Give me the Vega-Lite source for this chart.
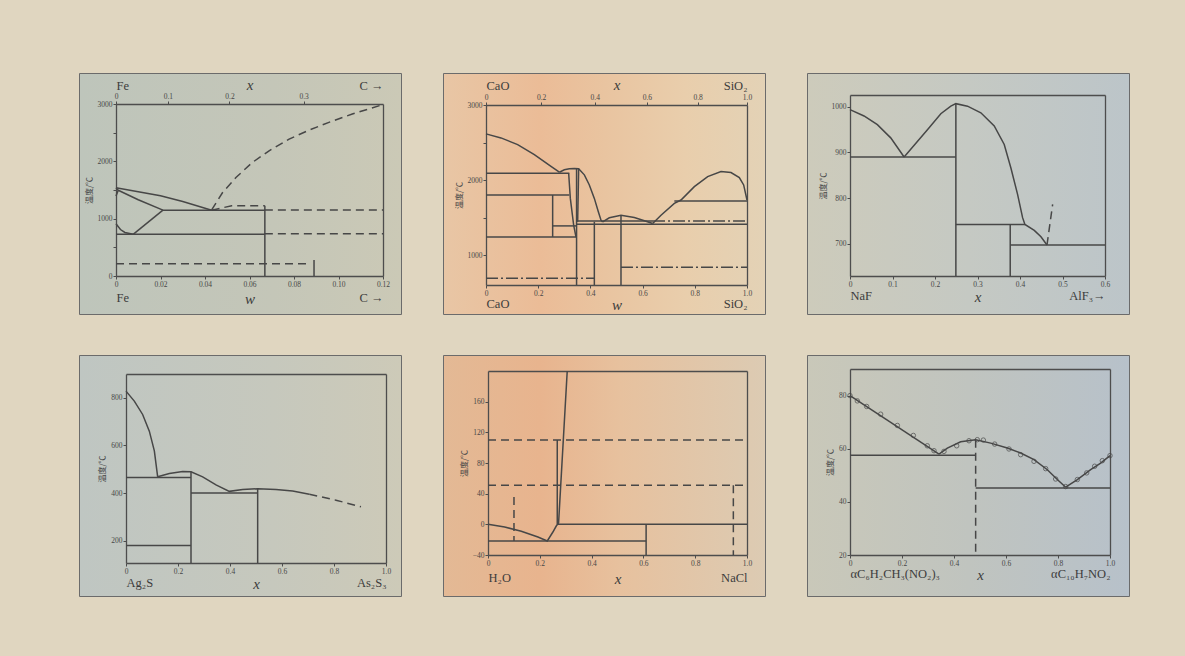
{
"$schema":"https://vega.github.io/schema/vega-lite/v6.json",
"background":"#e0d6c0",
"padding":{"left":78,"top":72,"right":56,"bottom":59},
"autosize":{"type":"pad"},
"datasets":{
"p1":[
{"c":1,"k":"s","x":0,"t":1538},{"c":1,"k":"s","x":0.01,"t":1470},{"c":1,"k":"s","x":0.02,"t":1398},{"c":1,"k":"s","x":0.03,"t":1300},{"c":1,"k":"s","x":0.043,"t":1148},
{"c":2,"k":"s","x":0.001,"t":1495},{"c":2,"k":"s","x":0.01,"t":1330},{"c":2,"k":"s","x":0.0211,"t":1148},
{"c":3,"k":"s","x":0,"t":1538},{"c":3,"k":"s","x":0.001,"t":1495},{"c":3,"k":"s","x":0,"t":1394},
{"c":4,"k":"s","x":0,"t":912},{"c":4,"k":"s","x":0.002,"t":810},{"c":4,"k":"s","x":0.004,"t":760},{"c":4,"k":"s","x":0.0077,"t":727},
{"c":5,"k":"s","x":0.0077,"t":727},{"c":5,"k":"s","x":0.0211,"t":1148},
{"c":6,"k":"s","x":0.0211,"t":1148},{"c":6,"k":"s","x":0.0669,"t":1148},
{"c":7,"k":"s","x":0,"t":727},{"c":7,"k":"s","x":0.0669,"t":727},
{"c":8,"k":"s","x":0.0669,"t":0},{"c":8,"k":"s","x":0.0669,"t":1227},
{"c":9,"k":"d","x":0.043,"t":1148},{"c":9,"k":"d","x":0.052,"t":1225},{"c":9,"k":"d","x":0.0669,"t":1227},
{"c":10,"k":"d","x":0.043,"t":1153},{"c":10,"k":"d","x":0.0479,"t":1456},{"c":10,"k":"d","x":0.0539,"t":1718},{"c":10,"k":"d","x":0.0613,"t":1981},{"c":10,"k":"d","x":0.0688,"t":2184},{"c":10,"k":"d","x":0.0778,"t":2388},{"c":10,"k":"d","x":0.0868,"t":2545},{"c":10,"k":"d","x":0.0957,"t":2680},{"c":10,"k":"d","x":0.1062,"t":2825},{"c":10,"k":"d","x":0.12,"t":2990},
{"c":11,"k":"d","x":0.0669,"t":1153},{"c":11,"k":"d","x":0.12,"t":1153},
{"c":12,"k":"d","x":0.0669,"t":738},{"c":12,"k":"d","x":0.12,"t":738},
{"c":13,"k":"d","x":0,"t":215},{"c":13,"k":"d","x":0.087,"t":215},
{"c":14,"k":"s","x":0.089,"t":0},{"c":14,"k":"s","x":0.089,"t":280}
],
"p2":[
{"c":1,"k":"s","x":0,"t":2615},{"c":1,"k":"s","x":0.0575,"t":2561},{"c":1,"k":"s","x":0.1213,"t":2472},{"c":1,"k":"s","x":0.1852,"t":2337},{"c":1,"k":"s","x":0.249,"t":2181},{"c":1,"k":"s","x":0.281,"t":2104},
{"c":2,"k":"s","x":0.281,"t":2104},{"c":2,"k":"s","x":0.3001,"t":2136},{"c":2,"k":"s","x":0.3193,"t":2149},{"c":2,"k":"s","x":0.3384,"t":2154},{"c":2,"k":"s","x":0.355,"t":2149},{"c":2,"k":"s","x":0.3768,"t":2069},{"c":2,"k":"s","x":0.3959,"t":1934},{"c":2,"k":"s","x":0.4151,"t":1755},{"c":2,"k":"s","x":0.4304,"t":1576},{"c":2,"k":"s","x":0.4406,"t":1464},{"c":2,"k":"s","x":0.447,"t":1442},
{"c":3,"k":"s","x":0,"t":2091},{"c":3,"k":"s","x":0.3193,"t":2091},
{"c":4,"k":"s","x":0,"t":1800},{"c":4,"k":"s","x":0.3193,"t":1800},
{"c":5,"k":"s","x":0,"t":1240},{"c":5,"k":"s","x":0.3448,"t":1240},
{"c":6,"k":"s","x":0.2554,"t":1800},{"c":6,"k":"s","x":0.2554,"t":1240},
{"c":7,"k":"s","x":0.2554,"t":1388},{"c":7,"k":"s","x":0.3448,"t":1388},
{"c":8,"k":"s","x":0.3167,"t":2091},{"c":8,"k":"s","x":0.3231,"t":1755},{"c":8,"k":"s","x":0.3359,"t":1397},{"c":8,"k":"s","x":0.3448,"t":1240},
{"c":9,"k":"s","x":0.347,"t":2152},{"c":9,"k":"s","x":0.347,"t":600},
{"c":10,"k":"s","x":0.355,"t":2149},{"c":10,"k":"s","x":0.3512,"t":1442},
{"c":11,"k":"s","x":0.345,"t":1455},{"c":11,"k":"s","x":0.64,"t":1455},
{"c":12,"k":"dd","x":0.64,"t":1455},{"c":12,"k":"dd","x":1,"t":1455},
{"c":13,"k":"s","x":0.345,"t":1410},{"c":13,"k":"s","x":1,"t":1410},
{"c":14,"k":"s","x":0.447,"t":1442},{"c":14,"k":"s","x":0.4725,"t":1496},{"c":14,"k":"s","x":0.5172,"t":1531},{"c":14,"k":"s","x":0.5683,"t":1500},{"c":14,"k":"s","x":0.613,"t":1451},{"c":14,"k":"s","x":0.6386,"t":1419},
{"c":15,"k":"s","x":0.5172,"t":1531},{"c":15,"k":"s","x":0.5172,"t":600},
{"c":16,"k":"s","x":0.4151,"t":1442},{"c":16,"k":"s","x":0.4151,"t":600},
{"c":17,"k":"dd","x":0,"t":689},{"c":17,"k":"dd","x":0.4151,"t":689},
{"c":18,"k":"dd","x":0.5172,"t":837},{"c":18,"k":"dd","x":1,"t":837},
{"c":19,"k":"s","x":0.6386,"t":1419},{"c":19,"k":"s","x":0.6705,"t":1531},{"c":19,"k":"s","x":0.7216,"t":1688},{"c":19,"k":"s","x":0.7471,"t":1733},{"c":19,"k":"s","x":0.7982,"t":1912},{"c":19,"k":"s","x":0.8493,"t":2046},{"c":19,"k":"s","x":0.9004,"t":2113},{"c":19,"k":"s","x":0.9387,"t":2100},{"c":19,"k":"s","x":0.9706,"t":2033},{"c":19,"k":"s","x":0.9872,"t":1934},{"c":19,"k":"s","x":1,"t":1733},
{"c":20,"k":"s","x":0.7216,"t":1719},{"c":20,"k":"s","x":1,"t":1719}
],
"p3":[
{"c":1,"k":"s","x":0,"t":994},{"c":1,"k":"s","x":0.033,"t":980},{"c":1,"k":"s","x":0.0644,"t":961},{"c":1,"k":"s","x":0.0958,"t":932},{"c":1,"k":"s","x":0.1273,"t":890},
{"c":2,"k":"s","x":0.1273,"t":890},{"c":2,"k":"s","x":0.1822,"t":950},{"c":2,"k":"s","x":0.2137,"t":985},{"c":2,"k":"s","x":0.2372,"t":1001.5},{"c":2,"k":"s","x":0.2491,"t":1007},{"c":2,"k":"s","x":0.2765,"t":1001.5},{"c":2,"k":"s","x":0.3079,"t":987},{"c":2,"k":"s","x":0.3394,"t":958},{"c":2,"k":"s","x":0.3629,"t":917.5},{"c":2,"k":"s","x":0.3786,"t":866},{"c":2,"k":"s","x":0.3943,"t":808},{"c":2,"k":"s","x":0.4061,"t":757},{"c":2,"k":"s","x":0.4116,"t":742},{"c":2,"k":"s","x":0.4336,"t":729},{"c":2,"k":"s","x":0.4493,"t":715},{"c":2,"k":"s","x":0.4635,"t":697},
{"c":3,"k":"d","x":0.4635,"t":697},{"c":3,"k":"d","x":0.4768,"t":786},
{"c":4,"k":"s","x":0,"t":890},{"c":4,"k":"s","x":0.2491,"t":890},
{"c":5,"k":"s","x":0.2491,"t":1007},{"c":5,"k":"s","x":0.2491,"t":629},
{"c":6,"k":"s","x":0.2491,"t":742},{"c":6,"k":"s","x":0.4116,"t":742},
{"c":7,"k":"s","x":0.377,"t":742},{"c":7,"k":"s","x":0.377,"t":629},
{"c":8,"k":"s","x":0.377,"t":697},{"c":8,"k":"s","x":0.6,"t":697}
],
"p4":[
{"c":1,"k":"s","x":0,"t":828},{"c":1,"k":"s","x":0.032,"t":786},{"c":1,"k":"s","x":0.064,"t":730},{"c":1,"k":"s","x":0.0897,"t":660},{"c":1,"k":"s","x":0.109,"t":577},{"c":1,"k":"s","x":0.1218,"t":468},
{"c":2,"k":"s","x":0.1218,"t":468},{"c":2,"k":"s","x":0.1667,"t":482},{"c":2,"k":"s","x":0.2179,"t":490},{"c":2,"k":"s","x":0.25,"t":489},{"c":2,"k":"s","x":0.2949,"t":468},{"c":2,"k":"s","x":0.3462,"t":434},{"c":2,"k":"s","x":0.3974,"t":407},{"c":2,"k":"s","x":0.4487,"t":415},{"c":2,"k":"s","x":0.5064,"t":418},{"c":2,"k":"s","x":0.5769,"t":415},{"c":2,"k":"s","x":0.641,"t":408},{"c":2,"k":"s","x":0.7051,"t":395},
{"c":3,"k":"d","x":0.7051,"t":395},{"c":3,"k":"d","x":0.8077,"t":370},{"c":3,"k":"d","x":0.9038,"t":342},
{"c":4,"k":"s","x":0,"t":465},{"c":4,"k":"s","x":0.25,"t":465},
{"c":5,"k":"s","x":0.25,"t":400},{"c":5,"k":"s","x":0.5064,"t":400},
{"c":6,"k":"s","x":0,"t":179},{"c":6,"k":"s","x":0.25,"t":179},
{"c":7,"k":"s","x":0.25,"t":489},{"c":7,"k":"s","x":0.25,"t":106},
{"c":8,"k":"s","x":0.5064,"t":418},{"c":8,"k":"s","x":0.5064,"t":106}
],
"p5":[
{"c":1,"k":"s","x":0,"t":0},{"c":1,"k":"s","x":0.0643,"t":-3.5},{"c":1,"k":"s","x":0.1285,"t":-9.1},{"c":1,"k":"s","x":0.1928,"t":-16.5},{"c":1,"k":"s","x":0.2288,"t":-21.7},{"c":1,"k":"s","x":0.2506,"t":-10},{"c":1,"k":"s","x":0.2635,"t":-2.2},{"c":1,"k":"s","x":0.2725,"t":1.7},{"c":1,"k":"s","x":0.3059,"t":200},
{"c":2,"k":"s","x":0.2674,"t":0},{"c":2,"k":"s","x":0.2674,"t":110},
{"c":3,"k":"s","x":0.27,"t":0},{"c":3,"k":"s","x":1,"t":0},
{"c":4,"k":"s","x":0,"t":-21.7},{"c":4,"k":"s","x":0.6105,"t":-21.7},
{"c":5,"k":"s","x":0.6105,"t":0},{"c":5,"k":"s","x":0.6105,"t":-40},
{"c":6,"k":"d","x":0,"t":110},{"c":6,"k":"d","x":1,"t":110},
{"c":7,"k":"d","x":0,"t":51},{"c":7,"k":"d","x":1,"t":51},
{"c":8,"k":"d","x":0.1003,"t":35.6},{"c":8,"k":"d","x":0.1003,"t":-21.7},
{"c":9,"k":"d","x":0.9473,"t":51},{"c":9,"k":"d","x":0.9473,"t":-40}
],
"p6":[
{"c":1,"k":"s","x":0,"t":80},{"c":1,"k":"s","x":0.3423,"t":58},
{"c":2,"k":"s","x":0.3423,"t":58},{"c":2,"k":"s","x":0.3744,"t":60.25},{"c":2,"k":"s","x":0.4256,"t":62.6},{"c":2,"k":"s","x":0.4833,"t":63.4},{"c":2,"k":"s","x":0.541,"t":62.1},{"c":2,"k":"s","x":0.6051,"t":60.25},{"c":2,"k":"s","x":0.6564,"t":58.4},{"c":2,"k":"s","x":0.7077,"t":55.9},{"c":2,"k":"s","x":0.759,"t":52.1},{"c":2,"k":"s","x":0.7974,"t":48.4},{"c":2,"k":"s","x":0.8295,"t":45.5},
{"c":3,"k":"s","x":0.8295,"t":45.5},{"c":3,"k":"s","x":0.8744,"t":48.4},{"c":3,"k":"s","x":0.9256,"t":52.1},{"c":3,"k":"s","x":0.9641,"t":54.6},{"c":3,"k":"s","x":1,"t":57.4},
{"c":4,"k":"s","x":0,"t":57.5},{"c":4,"k":"s","x":0.4833,"t":57.5},
{"c":5,"k":"s","x":0.4833,"t":45.25},{"c":5,"k":"s","x":1,"t":45.25},
{"c":6,"k":"d","x":0.4833,"t":63.4},{"c":6,"k":"d","x":0.4833,"t":20}
],
"p6m":[
{"x":0,"t":80},{"x":0.0282,"t":78},{"x":0.0641,"t":75.9},{"x":0.1179,"t":73},{"x":0.1821,"t":68.75},{"x":0.2436,"t":65},{"x":0.2974,"t":61.1},{"x":0.3231,"t":59.25},{"x":0.3615,"t":59},{"x":0.4103,"t":61.1},{"x":0.4577,"t":63},{"x":0.4897,"t":63.4},{"x":0.5128,"t":63.25},{"x":0.5564,"t":61.75},{"x":0.6115,"t":59.9},{"x":0.6564,"t":57.75},{"x":0.7077,"t":55.25},{"x":0.7526,"t":52.5},{"x":0.791,"t":48.6},{"x":0.8295,"t":45.75},{"x":0.8744,"t":48.4},{"x":0.9103,"t":50.9},{"x":0.941,"t":53.4},{"x":0.9705,"t":55.5},{"x":1,"t":57.4}
]
},
"columns":3,
"spacing":{"row":41,"column":42},
"bounds":"flush",
"concat":[
{"width":322,"height":241,"view":{"fill":{"gradient":"linear","x1":0,"y1":0,"x2":1,"y2":0,"stops":[{"offset":0,"color":"#bec5bb"},{"offset":0.6,"color":"#c4c6b8"},{"offset":1,"color":"#cbc9b6"}]},"stroke":"#6b6b6b","strokeWidth":1},"data":{"name":"p1"},
"layer":[
{"transform":[{"filter":{"field":"k","equal":"s"}}],"mark":{"type":"line"},
"encoding":{"x":{"field":"x","type":"quantitative","scale":{"domain":[0,0.12],"range":[37,304],"nice":false,"zero":false},"axis":{"orient":"bottom","offset":-38,"values":[0,0.02,0.04,0.06,0.08,0.1,0.12],"labelExpr":"datum.value==0?'0':format(datum.value,'.2f')","title":null}},
"y":{"field":"t","type":"quantitative","scale":{"domain":[0,3000],"range":[203,31],"nice":false,"zero":false},"axis":{"orient":"left","offset":-37,"values":[0,500,1000,1500,2000,2500,3000],"labelExpr":"datum.value%1000==0?format(datum.value,'d'):''","title":"温度/℃"}},
"detail":{"field":"c","type":"nominal"},"order":{"value":null}}},
{"transform":[{"filter":{"field":"k","equal":"d"}}],"mark":{"type":"line","strokeDash":[8,5]},
"encoding":{"x":{"field":"x","type":"quantitative","scale":{"domain":[0,0.12],"range":[37,304],"nice":false,"zero":false},"axis":{"orient":"top","offset":-31,"values":[0,0.0233,0.051,0.0843],"labelExpr":"datum.value==0?'0':datum.value<0.03?'0.1':datum.value<0.06?'0.2':'0.3'","title":null}},
"y":{"field":"t","type":"quantitative","scale":{"domain":[0,3000],"range":[203,31],"nice":false,"zero":false},"axis":{"orient":"right","offset":-18,"labels":false,"ticks":false,"title":null}},
"detail":{"field":"c","type":"nominal"},"order":{"value":null}}},
{"mark":{"type":"point","opacity":0},
"encoding":{"x":{"field":"x","type":"quantitative","scale":{"domain":[0,0.12],"range":[37,304],"nice":false,"zero":false},"axis":{"orient":"bottom","offset":-38,"values":[0,0.06,0.12],"labelExpr":"datum.value==0?'Fe':datum.value==0.06?'w':'C →'","labelFlush":true,"domain":false,"ticks":false,"labelPadding":15,"labelColor":"#3c3c3c","labelFontSize":{"condition":{"test":"datum.value==0.06","value":15},"value":12.5},"labelFontStyle":{"condition":{"test":"datum.value==0.06","value":"italic"},"value":"normal"},"title":null}},
"y":{"field":"t","type":"quantitative","scale":{"domain":[0,3000],"range":[203,31],"nice":false,"zero":false},"axis":null}}},
{"mark":{"type":"point","opacity":0},
"encoding":{"x":{"field":"x","type":"quantitative","scale":{"domain":[0,0.12],"range":[37,304],"nice":false,"zero":false},"axis":{"orient":"top","offset":-31,"values":[0,0.06,0.12],"labelExpr":"datum.value==0?'Fe':datum.value==0.06?'x':'C →'","labelFlush":true,"domain":false,"ticks":false,"labelPadding":12,"labelColor":"#3c3c3c","labelFontSize":{"condition":{"test":"datum.value==0.06","value":15},"value":12.5},"labelFontStyle":{"condition":{"test":"datum.value==0.06","value":"italic"},"value":"normal"},"title":null}},
"y":{"field":"t","type":"quantitative","scale":{"domain":[0,3000],"range":[203,31],"nice":false,"zero":false},"axis":null}}}
],
"resolve":{"axis":{"x":"independent","y":"independent"}}},

{"width":322,"height":241,"view":{"fill":{"gradient":"linear","x1":0,"y1":0,"x2":1,"y2":0,"stops":[{"offset":0,"color":"#e8c6a5"},{"offset":0.3,"color":"#ebbc97"},{"offset":0.5,"color":"#e9c4a0"},{"offset":0.75,"color":"#e9ceac"},{"offset":1,"color":"#e3d2b6"}]},"stroke":"#6b6b6b","strokeWidth":1},"data":{"name":"p2"},
"layer":[
{"transform":[{"filter":{"field":"k","equal":"s"}}],"mark":{"type":"line"},
"encoding":{"x":{"field":"x","type":"quantitative","scale":{"domain":[0,1],"range":[43,304],"nice":false,"zero":false},"axis":{"orient":"bottom","offset":-29,"values":[0,0.2,0.4,0.6,0.8,1],"labelExpr":"datum.value==0?'0':format(datum.value,'.1f')","title":null}},
"y":{"field":"t","type":"quantitative","scale":{"domain":[600,3000],"range":[212,32],"nice":false,"zero":false},"axis":{"orient":"left","offset":-43,"values":[1000,1500,2000,2500,3000],"labelExpr":"datum.value%1000==0?format(datum.value,'d'):''","title":"温度/℃"}},
"detail":{"field":"c","type":"nominal"},"order":{"value":null}}},
{"transform":[{"filter":{"field":"k","equal":"dd"}}],"mark":{"type":"line","strokeDash":[12,3,2,3]},
"encoding":{"x":{"field":"x","type":"quantitative","scale":{"domain":[0,1],"range":[43,304],"nice":false,"zero":false},"axis":{"orient":"top","offset":-32,"values":[0,0.2113,0.4167,0.6164,0.8107,1],"labelExpr":"datum.value==0?'0':datum.value==1?'1.0':datum.value<0.3?'0.2':datum.value<0.5?'0.4':datum.value<0.7?'0.6':'0.8'","title":null}},
"y":{"field":"t","type":"quantitative","scale":{"domain":[600,3000],"range":[212,32],"nice":false,"zero":false},"axis":{"orient":"right","offset":-18,"labels":false,"ticks":false,"title":null}},
"detail":{"field":"c","type":"nominal"},"order":{"value":null}}},
{"mark":{"type":"point","opacity":0},
"encoding":{"x":{"field":"x","type":"quantitative","scale":{"domain":[0,1],"range":[43,304],"nice":false,"zero":false},"axis":{"orient":"bottom","offset":-29,"values":[0,0.5,1],"labelExpr":"datum.value==0?'CaO':datum.value==0.5?'w':'SiO₂'","labelFlush":true,"domain":false,"ticks":false,"labelPadding":12,"labelColor":"#3c3c3c","labelFontSize":{"condition":{"test":"datum.value==0.5","value":15},"value":12.5},"labelFontStyle":{"condition":{"test":"datum.value==0.5","value":"italic"},"value":"normal"},"title":null}},
"y":{"field":"t","type":"quantitative","scale":{"domain":[600,3000],"range":[212,32],"nice":false,"zero":false},"axis":null}}},
{"mark":{"type":"point","opacity":0},
"encoding":{"x":{"field":"x","type":"quantitative","scale":{"domain":[0,1],"range":[43,304],"nice":false,"zero":false},"axis":{"orient":"top","offset":-32,"values":[0,0.5,1],"labelExpr":"datum.value==0?'CaO':datum.value==0.5?'x':'SiO₂'","labelFlush":true,"domain":false,"ticks":false,"labelPadding":13,"labelColor":"#3c3c3c","labelFontSize":{"condition":{"test":"datum.value==0.5","value":15},"value":12.5},"labelFontStyle":{"condition":{"test":"datum.value==0.5","value":"italic"},"value":"normal"},"title":null}},
"y":{"field":"t","type":"quantitative","scale":{"domain":[600,3000],"range":[212,32],"nice":false,"zero":false},"axis":null}}}
],
"resolve":{"axis":{"x":"independent","y":"independent"}}},

{"width":322,"height":241,"view":{"fill":{"gradient":"linear","x1":0,"y1":0,"x2":1,"y2":0,"stops":[{"offset":0,"color":"#cdcbbb"},{"offset":0.5,"color":"#c5c9c3"},{"offset":1,"color":"#bcc5c9"}]},"stroke":"#6b6b6b","strokeWidth":1},"data":{"name":"p3"},
"layer":[
{"transform":[{"filter":{"field":"k","equal":"s"}}],"mark":{"type":"line"},
"encoding":{"x":{"field":"x","type":"quantitative","scale":{"domain":[0,0.6],"range":[43,298],"nice":false,"zero":false},"axis":{"orient":"bottom","offset":-38,"values":[0,0.1,0.2,0.3,0.4,0.5,0.6],"labelExpr":"datum.value==0?'0':format(datum.value,'.1f')","title":null}},
"y":{"field":"t","type":"quantitative","scale":{"domain":[629,1026],"range":[203,22],"nice":false,"zero":false},"axis":{"orient":"left","offset":-43,"values":[700,800,900,1000],"format":"d","title":"温度/℃"}},
"detail":{"field":"c","type":"nominal"},"order":{"value":null}}},
{"transform":[{"filter":{"field":"k","equal":"d"}}],"mark":{"type":"line","strokeDash":[8,5]},
"encoding":{"x":{"field":"x","type":"quantitative","scale":{"domain":[0,0.6],"range":[43,298],"nice":false,"zero":false},"axis":{"orient":"top","offset":-22,"labels":false,"ticks":false,"title":null}},
"y":{"field":"t","type":"quantitative","scale":{"domain":[629,1026],"range":[203,22],"nice":false,"zero":false},"axis":{"orient":"right","offset":-24,"labels":false,"ticks":false,"title":null}},
"detail":{"field":"c","type":"nominal"},"order":{"value":null}}},
{"mark":{"type":"point","opacity":0},
"encoding":{"x":{"field":"x","type":"quantitative","scale":{"domain":[0,0.6],"range":[43,298],"nice":false,"zero":false},"axis":{"orient":"bottom","offset":-38,"values":[0,0.3,0.6],"labelExpr":"datum.value==0?'NaF':datum.value==0.3?'x':'AlF₃→'","labelFlush":true,"domain":false,"ticks":false,"labelPadding":13,"labelColor":"#3c3c3c","labelFontSize":{"condition":{"test":"datum.value==0.3","value":15},"value":12.5},"labelFontStyle":{"condition":{"test":"datum.value==0.3","value":"italic"},"value":"normal"},"title":null}},
"y":{"field":"t","type":"quantitative","scale":{"domain":[629,1026],"range":[203,22],"nice":false,"zero":false},"axis":null}}}
],
"resolve":{"axis":{"x":"independent","y":"independent"}}},

{"width":322,"height":241,"view":{"fill":{"gradient":"linear","x1":0,"y1":0,"x2":1,"y2":0,"stops":[{"offset":0,"color":"#bfc6c2"},{"offset":0.6,"color":"#c6c8bd"},{"offset":1,"color":"#cdcab8"}]},"stroke":"#6b6b6b","strokeWidth":1},"data":{"name":"p4"},
"layer":[
{"transform":[{"filter":{"field":"k","equal":"s"}}],"mark":{"type":"line"},
"encoding":{"x":{"field":"x","type":"quantitative","scale":{"domain":[0,1],"range":[47,307],"nice":false,"zero":false},"axis":{"orient":"bottom","offset":-33,"values":[0,0.2,0.4,0.6,0.8,1],"labelExpr":"datum.value==0?'0':format(datum.value,'.1f')","title":null}},
"y":{"field":"t","type":"quantitative","scale":{"domain":[106,900],"range":[208,19],"nice":false,"zero":false},"axis":{"orient":"left","offset":-47,"values":[200,400,600,800],"format":"d","title":"温度/℃"}},
"detail":{"field":"c","type":"nominal"},"order":{"value":null}}},
{"transform":[{"filter":{"field":"k","equal":"d"}}],"mark":{"type":"line","strokeDash":[8,5]},
"encoding":{"x":{"field":"x","type":"quantitative","scale":{"domain":[0,1],"range":[47,307],"nice":false,"zero":false},"axis":{"orient":"top","offset":-19,"labels":false,"ticks":false,"title":null}},
"y":{"field":"t","type":"quantitative","scale":{"domain":[106,900],"range":[208,19],"nice":false,"zero":false},"axis":{"orient":"right","offset":-15,"labels":false,"ticks":false,"title":null}},
"detail":{"field":"c","type":"nominal"},"order":{"value":null}}},
{"mark":{"type":"point","opacity":0},
"encoding":{"x":{"field":"x","type":"quantitative","scale":{"domain":[0,1],"range":[47,307],"nice":false,"zero":false},"axis":{"orient":"bottom","offset":-33,"values":[0,0.5,1],"labelExpr":"datum.value==0?'Ag₂S':datum.value==0.5?'x':'As₂S₃'","labelFlush":true,"domain":false,"ticks":false,"labelPadding":13,"labelColor":"#3c3c3c","labelFontSize":{"condition":{"test":"datum.value==0.5","value":15},"value":12.5},"labelFontStyle":{"condition":{"test":"datum.value==0.5","value":"italic"},"value":"normal"},"title":null}},
"y":{"field":"t","type":"quantitative","scale":{"domain":[106,900],"range":[208,19],"nice":false,"zero":false},"axis":null}}}
],
"resolve":{"axis":{"x":"independent","y":"independent"}}},

{"width":322,"height":241,"view":{"fill":{"gradient":"linear","x1":0,"y1":0,"x2":1,"y2":0,"stops":[{"offset":0,"color":"#e3b995"},{"offset":0.3,"color":"#e8b48e"},{"offset":0.55,"color":"#e7c19e"},{"offset":1,"color":"#dccbb3"}]},"stroke":"#6b6b6b","strokeWidth":1},"data":{"name":"p5"},
"layer":[
{"transform":[{"filter":{"field":"k","equal":"s"}}],"mark":{"type":"line"},
"encoding":{"x":{"field":"x","type":"quantitative","scale":{"domain":[0,1],"range":[45,304],"nice":false,"zero":false},"axis":{"orient":"bottom","offset":-41,"values":[0,0.2,0.4,0.6,0.8,1],"labelExpr":"datum.value==0?'0':format(datum.value,'.1f')","title":null}},
"y":{"field":"t","type":"quantitative","scale":{"domain":[-40,200],"range":[200,16],"nice":false,"zero":false},"axis":{"orient":"left","offset":-45,"values":[-40,0,40,80,120,160],"format":"d","title":"温度/℃"}},
"detail":{"field":"c","type":"nominal"},"order":{"value":null}}},
{"transform":[{"filter":{"field":"k","equal":"d"}}],"mark":{"type":"line","strokeDash":[8,5]},
"encoding":{"x":{"field":"x","type":"quantitative","scale":{"domain":[0,1],"range":[45,304],"nice":false,"zero":false},"axis":{"orient":"top","offset":-16,"labels":false,"ticks":false,"title":null}},
"y":{"field":"t","type":"quantitative","scale":{"domain":[-40,200],"range":[200,16],"nice":false,"zero":false},"axis":{"orient":"right","offset":-18,"labels":false,"ticks":false,"title":null}},
"detail":{"field":"c","type":"nominal"},"order":{"value":null}}},
{"mark":{"type":"point","opacity":0},
"encoding":{"x":{"field":"x","type":"quantitative","scale":{"domain":[0,1],"range":[45,304],"nice":false,"zero":false},"axis":{"orient":"bottom","offset":-41,"values":[0,0.5,1],"labelExpr":"datum.value==0?'H₂O':datum.value==0.5?'x':'NaCl'","labelFlush":true,"domain":false,"ticks":false,"labelPadding":16,"labelColor":"#3c3c3c","labelFontSize":{"condition":{"test":"datum.value==0.5","value":15},"value":12.5},"labelFontStyle":{"condition":{"test":"datum.value==0.5","value":"italic"},"value":"normal"},"title":null}},
"y":{"field":"t","type":"quantitative","scale":{"domain":[-40,200],"range":[200,16],"nice":false,"zero":false},"axis":null}}}
],
"resolve":{"axis":{"x":"independent","y":"independent"}}},

{"width":322,"height":241,"view":{"fill":{"gradient":"linear","x1":0,"y1":0,"x2":1,"y2":0,"stops":[{"offset":0,"color":"#c9c8b9"},{"offset":0.5,"color":"#c0c4bf"},{"offset":1,"color":"#b7c1ca"}]},"stroke":"#6b6b6b","strokeWidth":1},"data":{"name":"p6"},
"layer":[
{"transform":[{"filter":{"field":"k","equal":"s"}}],"mark":{"type":"line"},
"encoding":{"x":{"field":"x","type":"quantitative","scale":{"domain":[0,1],"range":[43,303],"nice":false,"zero":false},"axis":{"orient":"bottom","offset":-41,"values":[0,0.2,0.4,0.6,0.8,1],"labelExpr":"datum.value==0?'0':format(datum.value,'.1f')","title":null}},
"y":{"field":"t","type":"quantitative","scale":{"domain":[20,90],"range":[200,14],"nice":false,"zero":false},"axis":{"orient":"left","offset":-43,"values":[20,40,60,80],"format":"d","title":"温度/℃"}},
"detail":{"field":"c","type":"nominal"},"order":{"value":null}}},
{"transform":[{"filter":{"field":"k","equal":"d"}}],"mark":{"type":"line","strokeDash":[8,5]},
"encoding":{"x":{"field":"x","type":"quantitative","scale":{"domain":[0,1],"range":[43,303],"nice":false,"zero":false},"axis":{"orient":"top","offset":-14,"labels":false,"ticks":false,"title":null}},
"y":{"field":"t","type":"quantitative","scale":{"domain":[20,90],"range":[200,14],"nice":false,"zero":false},"axis":{"orient":"right","offset":-19,"labels":false,"ticks":false,"title":null}},
"detail":{"field":"c","type":"nominal"},"order":{"value":null}}},
{"data":{"name":"p6m"},"mark":{"type":"point","shape":"circle","filled":false,"size":20,"strokeWidth":1},
"encoding":{"x":{"field":"x","type":"quantitative","scale":{"domain":[0,1],"range":[43,303],"nice":false,"zero":false},"axis":null},
"y":{"field":"t","type":"quantitative","scale":{"domain":[20,90],"range":[200,14],"nice":false,"zero":false},"axis":null}}},
{"mark":{"type":"point","opacity":0},
"encoding":{"x":{"field":"x","type":"quantitative","scale":{"domain":[0,1],"range":[43,303],"nice":false,"zero":false},"axis":{"orient":"bottom","offset":-41,"values":[0,0.5,1],"labelExpr":"datum.value==0?'αC₆H₂CH₃(NO₂)₃':datum.value==0.5?'x':'αC₁₀H₇NO₂'","labelFlush":true,"domain":false,"ticks":false,"labelPadding":12,"labelColor":"#3c3c3c","labelFontSize":{"condition":{"test":"datum.value==0.5","value":15},"value":12.5},"labelFontStyle":{"condition":{"test":"datum.value==0.5","value":"italic"},"value":"normal"},"title":null}},
"y":{"field":"t","type":"quantitative","scale":{"domain":[20,90],"range":[200,14],"nice":false,"zero":false},"axis":null}}}
],
"resolve":{"axis":{"x":"independent","y":"independent"}}}
],
"config":{
"axis":{"grid":false,"labelFont":"Liberation Serif","labelFontSize":7.5,"labelColor":"#474747","tickColor":"#4d4d4d","tickSize":3,"tickWidth":1,"domainColor":"#4d4d4d","domainWidth":1.3,"labelFlush":false,"labelOverlap":false,"labelPadding":1,"titleFont":"Noto Sans CJK SC","titleFontWeight":"normal","titleFontSize":8,"titleColor":"#474747","titlePadding":4},
"line":{"color":"#474747","strokeWidth":1.5},
"point":{"color":"#474747"}
}
}
